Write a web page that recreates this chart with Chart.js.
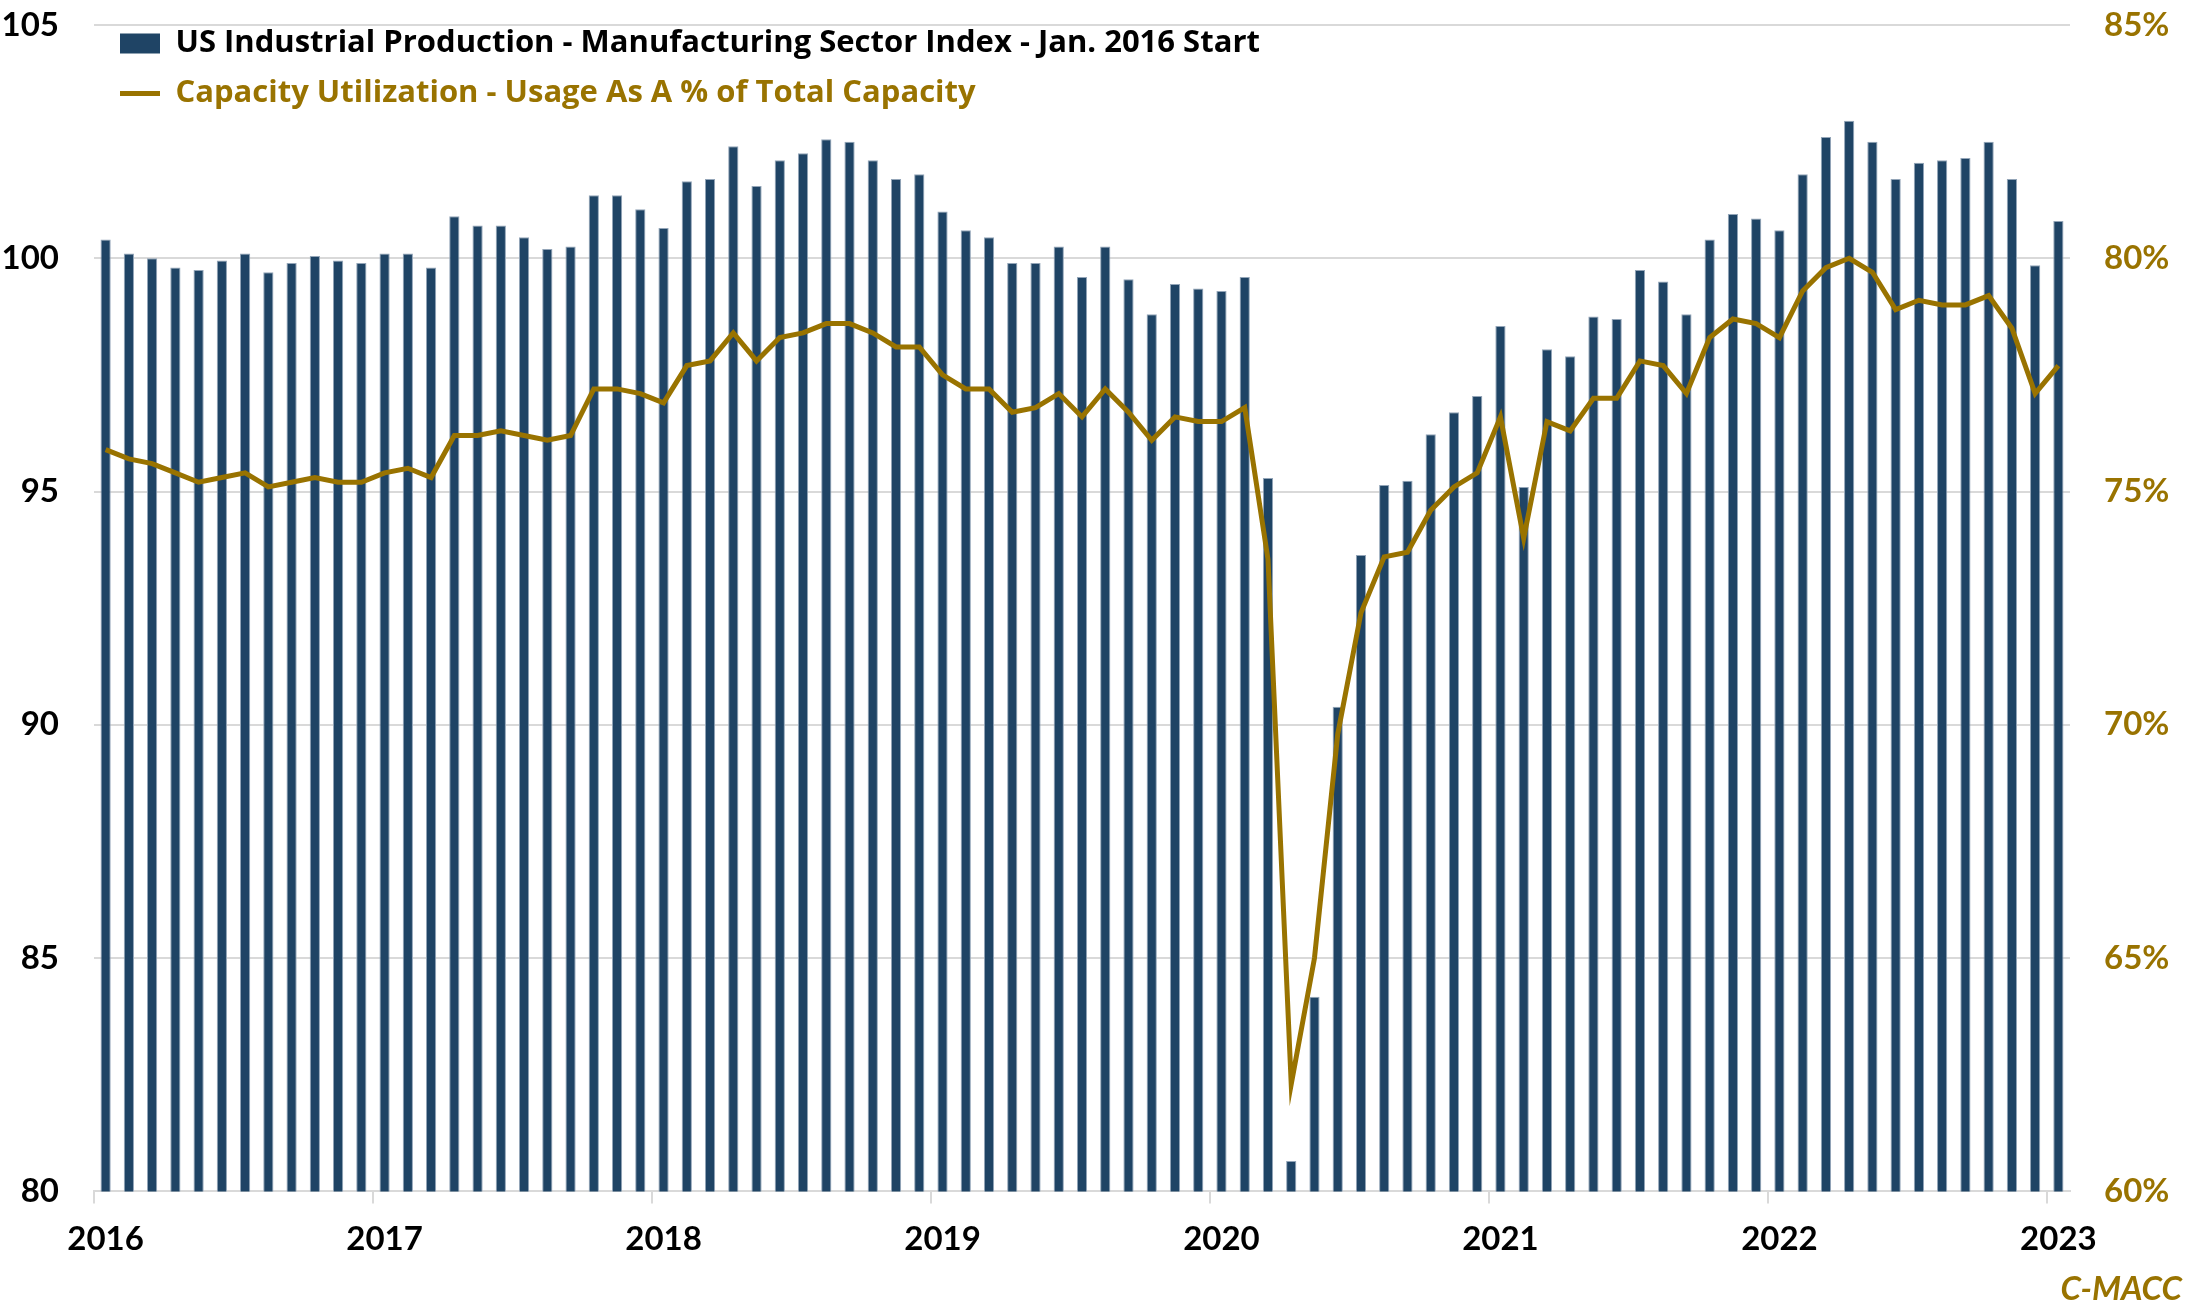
<!DOCTYPE html>
<html>
<head>
<meta charset="utf-8">
<script src="https://cdn.jsdelivr.net/npm/chart.js@4.4.1/dist/chart.umd.min.js"></script>
<style>
html,body{margin:0;padding:0;background:#fff;}
#wrap{width:2203px;height:1315px;}
</style>
</head>
<body>
<div id="wrap"><canvas id="c" width="2203" height="1315"></canvas></div>
<script>
const years = ['2016','2017','2018','2019','2020','2021','2022','2023'];
const months = [];
for (let y = 2016; y <= 2023; y++) { for (let m = 1; m <= 12; m++) { if (y === 2023 && m > 1) break; months.push(y + '-' + String(m).padStart(2,'0')); } }

const productionIndex = [
  100.4,100.1,100.0,99.8,99.75,99.95,100.1,99.7,99.9,100.05,99.95,99.9,
  100.1,100.1,99.8,100.9,100.7,100.7,100.45,100.2,100.25,101.35,101.35,101.05,
  100.65,101.65,101.7,102.4,101.55,102.1,102.25,102.55,102.5,102.1,101.7,101.8,
  101.0,100.6,100.45,99.9,99.9,100.25,99.6,100.25,99.55,98.8,99.45,99.35,
  99.3,99.6,95.29,80.65,84.17,90.39,93.64,95.14,95.23,96.23,96.7,97.05,
  98.55,95.1,98.05,97.9,98.75,98.7,99.75,99.5,98.8,100.4,100.95,100.85,
  100.6,101.8,102.6,102.95,102.5,101.7,102.05,102.1,102.15,102.5,101.7,99.85,
  100.8
];
const capacityUtilization = [
  75.9,75.7,75.6,75.4,75.2,75.3,75.4,75.1,75.2,75.3,75.2,75.2,
  75.4,75.5,75.3,76.2,76.2,76.3,76.2,76.1,76.2,77.2,77.2,77.1,
  76.9,77.7,77.8,78.4,77.8,78.3,78.4,78.6,78.6,78.4,78.1,78.1,
  77.5,77.2,77.2,76.7,76.8,77.1,76.6,77.2,76.7,76.1,76.6,76.5,
  76.5,76.8,73.55,62.3,65.0,69.8,72.4,73.6,73.7,74.6,75.1,75.4,
  76.6,74.0,76.5,76.3,77.0,77.0,77.8,77.7,77.1,78.3,78.7,78.6,
  78.3,79.3,79.8,80.0,79.7,78.9,79.1,79.0,79.0,79.2,78.5,77.1,
  77.7
];
const leftTicks = [80,85,90,95,100,105];
const rightTicks = [60,65,70,75,80,85];

const BLUE = '#1f4465';
const BAR_EDGE = '#93a5b8';
const GOLD = '#997300';
const GRID = '#d9d9d9';
const FONT = "Lato, 'Open Sans', sans-serif";
const LEGEND_FONT = "'Open Sans', Lato, sans-serif";

const labelBar = 'US Industrial Production - Manufacturing Sector Index - Jan. 2016 Start';
const labelLine = 'Capacity Utilization - Usage As A % of Total Capacity';

const legendPlacement = {
  id: 'legendPlacement',
  afterLayout(chart) {
    const lg = chart.legend;
    if (!lg) return;
    const dx = chart.chartArea.left + 7 - lg.left;
    const dy = chart.chartArea.top - 16 - lg.top;
    lg.left += dx; lg.right += dx; lg.top += dy; lg.bottom += dy;
  }
};

new Chart(document.getElementById('c'), {
  data: {
    labels: months,
    datasets: [
      {
        type: 'line', label: labelLine, data: capacityUtilization, yAxisID: 'y1',
        borderColor: GOLD, backgroundColor: GOLD, borderWidth: 5, pointRadius: 0, tension: 0
      },
      {
        type: 'bar', label: labelBar, data: productionIndex, yAxisID: 'y',
        backgroundColor: BLUE, borderColor: BAR_EDGE, borderWidth: { left: 1, right: 1, top: 1, bottom: 0 },
        barPercentage: 0.44, categoryPercentage: 1.0
      }
    ]
  },
  plugins: [legendPlacement],
  options: {
    responsive: false,
    devicePixelRatio: 1,
    animation: false,
    layout: { padding: { top: 25, right: 21, left: 0, bottom: 0 } },
    plugins: {
      tooltip: { enabled: false },
      legend: {
        position: 'chartArea',
        align: 'start',
        labels: {
          usePointStyle: true,
          pointStyleWidth: 40,
          boxHeight: 20,
          padding: 19,
          font: { family: LEGEND_FONT, size: 31, weight: 'bold' },
          generateLabels: (chart) => {
            const ds = chart.data.datasets;
            return [
              { text: ds[1].label, fillStyle: BLUE, strokeStyle: BLUE, lineWidth: 0, pointStyle: 'rect', fontColor: '#000', datasetIndex: 1, hidden: false },
              { text: ds[0].label, fillStyle: GOLD, strokeStyle: GOLD, lineWidth: 5, pointStyle: 'line', fontColor: GOLD, datasetIndex: 0, hidden: false }
            ];
          }
        }
      },
      title: {
        display: true, text: 'C-MACC', position: 'bottom', align: 'end', color: GOLD,
        font: { family: FONT, size: 33, weight: 'bold', style: 'italic' },
        padding: { top: 0, bottom: 6 }
      }
    },
    scales: {
      x: {
        type: 'category',
        offset: true,
        afterFit: (s) => { s.height = 78; },
        grid: {
          offset: true, drawOnChartArea: false, drawTicks: true, tickLength: 12, lineWidth: 2,
          color: (ctx) => (ctx.index !== undefined && ctx.index % 12 === 0) ? GRID : 'rgba(0,0,0,0)'
        },
        border: { display: true, color: GRID, width: 2 },
        ticks: {
          autoSkip: false, maxRotation: 0, minRotation: 0, padding: 16, color: '#000',
          font: { family: FONT, size: 33, weight: 'bold' },
          callback: function(v, i) { return i % 12 === 0 ? years[i / 12] : ''; }
        }
      },
      y: {
        position: 'left', min: 80, max: 105,
        afterFit: (s) => { s.width = 94; },
        afterBuildTicks: (s) => { s.ticks = leftTicks.map(v => ({ value: v })); },
        grid: { color: GRID, lineWidth: 2, drawTicks: true, tickLength: 35, tickColor: 'rgba(0,0,0,0)' },
        border: { display: false },
        ticks: { padding: 0, color: '#000', font: { family: FONT, size: 33, weight: 'bold' } }
      },
      y1: {
        position: 'right', min: 60, max: 85,
        afterFit: (s) => { s.width = 112; },
        afterBuildTicks: (s) => { s.ticks = rightTicks.map(v => ({ value: v })); },
        grid: { drawOnChartArea: false, drawTicks: true, tickLength: 34, tickColor: 'rgba(0,0,0,0)' },
        border: { display: false },
        ticks: { padding: 0, color: GOLD, font: { family: FONT, size: 33, weight: 'bold' }, callback: (v) => v + '%' }
      }
    }
  }
});
</script>
</body>
</html>
